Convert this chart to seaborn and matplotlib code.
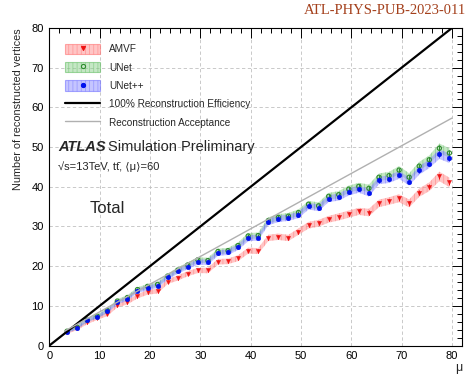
import matplotlib
matplotlib.use("Agg")
import matplotlib.pyplot as plt
from matplotlib.patches import Patch
from matplotlib.lines import Line2D
from matplotlib.ticker import MultipleLocator
import numpy as np
import pandas as pd
import seaborn as sns

# ---- data -----------------------------------------------------------------
mu = [3.5, 5.5, 7.5, 9.5, 11.5, 13.5, 15.5, 17.5, 19.5, 21.5,
      23.5, 25.5, 27.5, 29.5, 31.5, 33.5, 35.5, 37.5, 39.5, 41.5,
      43.5, 45.5, 47.5, 49.5, 51.5, 53.5, 55.5, 57.5, 59.5, 61.5,
      63.5, 65.5, 67.5, 69.5, 71.5, 73.5, 75.5, 77.5, 79.5]

amvf = [3.3, 4.3, 5.8, 6.9, 7.9, 10.1, 10.9, 12.4, 13.4, 13.7,
        16.1, 17.0, 18.1, 18.9, 18.9, 21.1, 21.2, 22.0, 23.9, 23.8,
        27.1, 27.4, 27.1, 28.7, 30.3, 30.8, 31.8, 32.4, 33.1, 33.8,
        33.5, 35.8, 36.4, 37.1, 35.8, 38.5, 40.0, 42.6, 41.1]

unet = [3.6, 4.6, 6.4, 7.4, 8.8, 11.2, 12.1, 14.1, 14.9, 15.4,
        17.5, 19.0, 20.3, 21.6, 21.4, 23.7, 23.9, 25.2, 27.6, 27.7,
        31.5, 32.3, 32.6, 33.5, 35.6, 35.2, 37.6, 38.0, 39.4, 40.1,
        39.6, 42.4, 42.8, 44.2, 42.4, 45.2, 46.8, 49.7, 48.5]

unetpp = [3.5, 4.5, 6.3, 7.3, 8.6, 10.9, 11.8, 13.8, 14.5, 15.1,
          17.2, 18.7, 19.9, 21.0, 21.0, 23.3, 23.5, 24.8, 27.0, 27.2,
          31.1, 31.9, 32.2, 32.9, 35.1, 34.7, 37.0, 37.4, 38.7, 39.4,
          38.5, 41.6, 41.9, 43.0, 41.3, 44.1, 45.8, 48.2, 47.2]

# uncertainty (half width of the shaded band)
unc = [0.4, 0.4, 0.45, 0.45, 0.5, 0.5, 0.55, 0.55, 0.6, 0.6,
       0.6, 0.65, 0.65, 0.65, 0.7, 0.7, 0.7, 0.75, 0.75, 0.75,
       0.8, 0.8, 0.8, 0.8, 0.85, 0.85, 0.85, 0.9, 0.9, 0.9,
       0.95, 0.95, 0.95, 1.0, 1.0, 1.05, 1.1, 1.2, 1.2]

# reference lines
eff_mu = [0, 80]
eff_vals = [0, 80]
acc_mu = [3, 80]
acc_vals = [3.6, 57.3]

x_ticks = [0, 10, 20, 30, 40, 50, 60, 70, 80]
y_ticks = [0, 10, 20, 30, 40, 50, 60, 70, 80]

# ---- style ----------------------------------------------------------------
sns.set_theme(style="white")
plt.rcParams["font.family"] = ["Liberation Sans", "DejaVu Sans"]
plt.rcParams["hatch.linewidth"] = 0.5
plt.rcParams["axes.unicode_minus"] = False

W, H = 471, 378
fig = plt.figure(figsize=(W / 100, H / 100), dpi=100)
ax = fig.add_axes([49.4 / W, 1 - 345.5 / H, (462 - 49.4) / W, (345.5 - 28) / H])

series = [
    ("AMVF", amvf, "#ee1111", (1.0, 0.55, 0.55, 0.5), (1.0, 0.45, 0.45, 0.6), "v", "full"),
    ("UNet", unet, "#2e8b2e", (0.55, 0.82, 0.55, 0.5), (0.4, 0.75, 0.4, 0.6), "o", "none"),
    ("UNet++", unetpp, "#0011ee", (0.55, 0.55, 1.0, 0.5), (0.45, 0.45, 1.0, 0.6), "o", "full"),
]

df = pd.DataFrame({"mu": mu, "AMVF": amvf, "UNet": unet, "UNet++": unetpp, "unc": unc})

# reference lines
sns.lineplot(x=eff_mu, y=eff_vals, ax=ax, color="black", lw=1.6, zorder=5)
sns.lineplot(x=acc_mu, y=acc_vals, ax=ax, color="#b0b0b0", lw=1.0, zorder=5)

m = np.asarray(mu)
u = np.asarray(unc)
for name, vals, col, band, hatchcol, mk, fill in series:
    v = np.asarray(vals)
    ax.fill_between(m, v - u, v + u, facecolor=band, edgecolor="none", lw=0, zorder=2)
    ax.fill_between(m, v - u, v + u, facecolor="none", edgecolor=hatchcol,
                    hatch="||||", lw=0, zorder=2)
    ax.errorbar(m, v, yerr=u * 0.6, fmt="none", ecolor=col, elinewidth=0.7, zorder=3)
    if fill == "none":
        sns.scatterplot(data=df, x="mu", y=name, ax=ax, marker=mk, s=9,
                        facecolor="none", edgecolor=col, linewidth=0.8, zorder=4)
    else:
        sns.scatterplot(data=df, x="mu", y=name, ax=ax, marker=mk, s=11 if mk == "o" else 9,
                        color=col, edgecolor=col, linewidth=0.3, zorder=4)

ax.set_xlim(0, 82)
ax.set_ylim(0, 80)
ax.set_xticks(x_ticks)
ax.set_yticks(y_ticks)
ax.xaxis.set_minor_locator(MultipleLocator(2))
ax.yaxis.set_minor_locator(MultipleLocator(2))
ax.tick_params(which="both", direction="in", top=True, right=True,
               labelsize=8, colors="black", width=0.7, pad=4)
ax.tick_params(which="major", length=7)
ax.tick_params(which="minor", length=3.5)
for s in ax.spines.values():
    s.set_color("black")
    s.set_linewidth(0.8)

ax.grid(True, which="major", color="#c0c0c0", lw=0.6, ls=(0, (4, 3)))
ax.set_axisbelow(True)

ax.set_xlabel("μ", loc="right", fontsize=9, labelpad=1)
ax.set_ylabel("Number of reconstructed vertices", loc="top", fontsize=7.8, labelpad=6)

# legend
handles = []
labels = []
for name, vals, col, band, hatchcol, mk, fill in series:
    p = Patch(facecolor=band, edgecolor=hatchcol, hatch="||||", lw=0.8)
    mkr = Line2D([], [], ls="none", marker=mk, markersize=3.0,
                 markerfacecolor=("none" if fill == "none" else col),
                 markeredgecolor=col, markeredgewidth=0.8)
    handles.append((p, mkr))
    labels.append(name)
handles.append(Line2D([], [], color="black", lw=1.6))
labels.append("100% Reconstruction Efficiency")
handles.append(Line2D([], [], color="#b0b0b0", lw=1.0))
labels.append("Reconstruction Acceptance")

leg = ax.legend(handles, labels, loc="upper left", bbox_to_anchor=(0.038, 0.95),
                frameon=False, fontsize=7.2, handlelength=3.5, handleheight=1.2,
                handletextpad=0.9, labelspacing=0.78, borderpad=0, borderaxespad=0)

# labels inside the frame
ax.text(1.8, 50.0, "ATLAS", fontsize=10.5, fontweight="bold", fontstyle="italic",
        va="center", ha="left")
ax.text(11.6, 50.0, "Simulation Preliminary", fontsize=10.5, va="center", ha="left")
ax.text(1.8, 45.1, "√s=13TeV, tt\u0304, ⟨μ⟩=60", fontsize=8, va="center", ha="left")
ax.text(8.0, 34.6, "Total", fontsize=12, va="center", ha="left")

fig.text(466 / W, 1 - 4 / H, "ATL-PHYS-PUB-2023-011", ha="right", va="top",
         color="#a4401c", family=["Liberation Serif", "DejaVu Serif"], fontsize=10.5)

fig.savefig("out.png", dpi=100)
